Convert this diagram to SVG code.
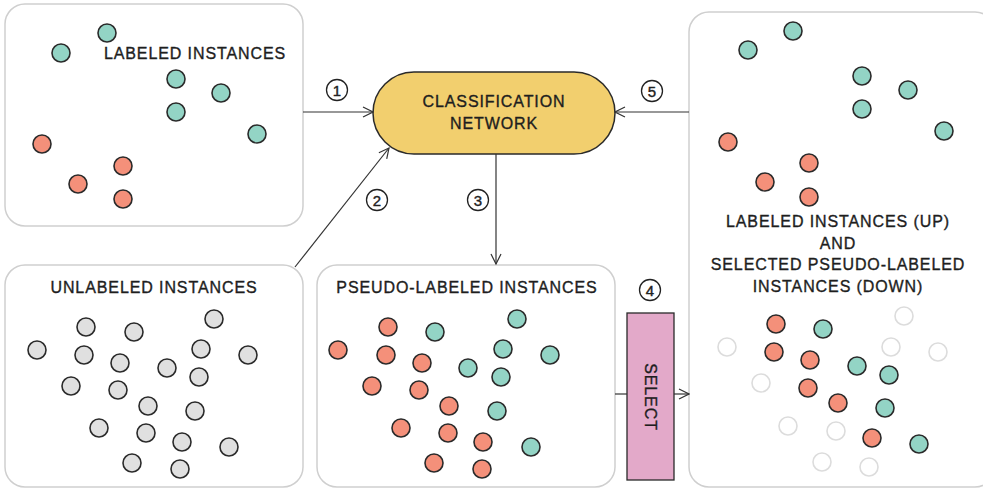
<svg xmlns="http://www.w3.org/2000/svg" width="983" height="489" viewBox="0 0 983 489">
<style>
.box{fill:#fff;stroke:#cfcfcf;stroke-width:1.5}
.t{font-family:"Liberation Sans",Arial,sans-serif;font-size:16px;fill:#1e1e1e;stroke:#1e1e1e;stroke-width:0.35;letter-spacing:0.9px;text-anchor:middle}
.g{fill:#e0e0e0;stroke:#2a2a2a;stroke-width:1.6}
.b{fill:#93d4c5;stroke:#2a2a2a;stroke-width:1.6}
.o{fill:#f4907a;stroke:#2a2a2a;stroke-width:1.6}
.w{fill:#fff;stroke:#dcdcdc;stroke-width:1.6}
.ln{fill:none;stroke:#333;stroke-width:1.2}
.lc{fill:#fff;stroke:#222;stroke-width:1.3}
.lt{font-family:"Liberation Sans",Arial,sans-serif;font-size:15px;fill:#222;stroke:#222;stroke-width:0.4;text-anchor:middle}
</style>
<defs>
<marker id="ah" viewBox="0 0 12 12" refX="11" refY="6" markerWidth="12" markerHeight="12" markerUnits="userSpaceOnUse" orient="auto">
<path d="M1,1 L11,6 L1,11" fill="none" stroke="#333" stroke-width="1.2"/>
</marker>
</defs>

<g id="labeled">
<rect class="box" x="5" y="4" width="298" height="222" rx="20"/>
<text class="t" x="195" y="59">LABELED INSTANCES</text>
<circle class="b" cx="61" cy="53" r="9"/>
<circle class="b" cx="107" cy="33" r="9"/>
<circle class="b" cx="176" cy="79" r="9"/>
<circle class="b" cx="221" cy="93" r="9"/>
<circle class="b" cx="176" cy="112" r="9"/>
<circle class="b" cx="257" cy="134" r="9"/>
<circle class="o" cx="42" cy="144" r="9"/>
<circle class="o" cx="123" cy="166" r="9"/>
<circle class="o" cx="78" cy="184" r="9"/>
<circle class="o" cx="123" cy="199" r="9"/>
</g>

<g id="network">
<rect x="373" y="72" width="242" height="82" rx="41" fill="#f2cf6e" stroke="#2a2a2a" stroke-width="1.5"/>
<text class="t" x="494" y="107">CLASSIFICATION</text>
<text class="t" x="494" y="129">NETWORK</text>
</g>

<g id="unlabeled">
<rect class="box" x="5" y="265" width="298" height="222" rx="20"/>
<text class="t" x="154" y="293">UNLABELED INSTANCES</text>
<circle class="g" cx="86" cy="327" r="9"/>
<circle class="g" cx="134" cy="332" r="9"/>
<circle class="g" cx="214" cy="319" r="9"/>
<circle class="g" cx="37" cy="350" r="9"/>
<circle class="g" cx="84" cy="355" r="9"/>
<circle class="g" cx="201" cy="349" r="9"/>
<circle class="g" cx="248" cy="355" r="9"/>
<circle class="g" cx="120" cy="363" r="9"/>
<circle class="g" cx="167" cy="368" r="9"/>
<circle class="g" cx="199" cy="377" r="9"/>
<circle class="g" cx="71" cy="386" r="9"/>
<circle class="g" cx="118" cy="390" r="9"/>
<circle class="g" cx="148" cy="406" r="9"/>
<circle class="g" cx="195" cy="411" r="9"/>
<circle class="g" cx="99" cy="428" r="9"/>
<circle class="g" cx="146" cy="433" r="9"/>
<circle class="g" cx="182" cy="442" r="9"/>
<circle class="g" cx="229" cy="447" r="9"/>
<circle class="g" cx="132" cy="463" r="9"/>
<circle class="g" cx="180" cy="469" r="9"/>
</g>

<g id="pseudo">
<rect class="box" x="317" y="265" width="298" height="222" rx="20"/>
<text class="t" x="467" y="293">PSEUDO-LABELED INSTANCES</text>
<circle class="o" cx="388" cy="327" r="9"/>
<circle class="b" cx="435" cy="332" r="9"/>
<circle class="b" cx="517" cy="319" r="9"/>
<circle class="o" cx="338" cy="350" r="9"/>
<circle class="o" cx="386" cy="355" r="9"/>
<circle class="b" cx="503" cy="349" r="9"/>
<circle class="b" cx="550" cy="355" r="9"/>
<circle class="o" cx="422" cy="363" r="9"/>
<circle class="b" cx="468" cy="368" r="9"/>
<circle class="b" cx="501" cy="377" r="9"/>
<circle class="o" cx="372" cy="386" r="9"/>
<circle class="o" cx="419" cy="390" r="9"/>
<circle class="o" cx="449" cy="406" r="9"/>
<circle class="b" cx="497" cy="411" r="9"/>
<circle class="o" cx="401" cy="428" r="9"/>
<circle class="o" cx="448" cy="433" r="9"/>
<circle class="o" cx="483" cy="442" r="9"/>
<circle class="b" cx="531" cy="447" r="9"/>
<circle class="o" cx="434" cy="463" r="9"/>
<circle class="o" cx="482" cy="469" r="9"/>
</g>

<g id="select">
<rect x="627" y="313" width="47" height="167" fill="#e3a9c9" stroke="#2a2a2a" stroke-width="1.3"/>
<text class="t" x="0" y="0" transform="translate(645,397) rotate(90)">SELECT</text>
</g>

<g id="combined">
<rect class="box" x="689" y="12" width="306" height="475" rx="20"/>
<text class="t" x="838" y="227">LABELED INSTANCES (UP)</text>
<text class="t" x="838" y="249">AND</text>
<text class="t" x="838" y="270">SELECTED PSEUDO-LABELED</text>
<text class="t" x="838" y="292">INSTANCES (DOWN)</text>
<circle class="b" cx="748" cy="50" r="9"/>
<circle class="b" cx="793" cy="31" r="9"/>
<circle class="b" cx="862" cy="76" r="9"/>
<circle class="b" cx="908" cy="90" r="9"/>
<circle class="b" cx="862" cy="109" r="9"/>
<circle class="b" cx="944" cy="131" r="9"/>
<circle class="o" cx="728" cy="142" r="9"/>
<circle class="o" cx="809" cy="163" r="9"/>
<circle class="o" cx="765" cy="182" r="9"/>
<circle class="o" cx="809" cy="197" r="9"/>
<circle class="w" cx="904" cy="316" r="9"/>
<circle class="o" cx="776" cy="324" r="9"/>
<circle class="b" cx="823" cy="329" r="9"/>
<circle class="w" cx="727" cy="347" r="9"/>
<circle class="o" cx="774" cy="352" r="9"/>
<circle class="w" cx="891" cy="347" r="9"/>
<circle class="w" cx="938" cy="352" r="9"/>
<circle class="o" cx="810" cy="360" r="9"/>
<circle class="b" cx="857" cy="366" r="9"/>
<circle class="b" cx="889" cy="375" r="9"/>
<circle class="w" cx="761" cy="383" r="9"/>
<circle class="o" cx="808" cy="388" r="9"/>
<circle class="o" cx="838" cy="403" r="9"/>
<circle class="b" cx="885" cy="408" r="9"/>
<circle class="w" cx="788" cy="426" r="9"/>
<circle class="w" cx="836" cy="431" r="9"/>
<circle class="o" cx="872" cy="438" r="9"/>
<circle class="b" cx="919" cy="444" r="9"/>
<circle class="w" cx="822" cy="462" r="9"/>
<circle class="w" cx="869" cy="467" r="9"/>
</g>

<g id="connectors">
<line class="ln" x1="303" y1="112" x2="373" y2="112" marker-end="url(#ah)"/>
<line class="ln" x1="295" y1="267" x2="389" y2="148" marker-end="url(#ah)"/>
<line class="ln" x1="496" y1="154" x2="496" y2="264" marker-end="url(#ah)"/>
<line class="ln" x1="615" y1="394" x2="627" y2="394"/>
<line class="ln" x1="674" y1="394" x2="689" y2="394" marker-end="url(#ah)"/>
<line class="ln" x1="689" y1="112" x2="615" y2="112" marker-end="url(#ah)"/>
<circle class="lc" cx="337" cy="90" r="10.5"/>
<text class="lt" x="337" y="95.5">1</text>
<circle class="lc" cx="377" cy="200" r="10.5"/>
<text class="lt" x="377" y="205.5">2</text>
<circle class="lc" cx="478" cy="200" r="10.5"/>
<text class="lt" x="478" y="205.5">3</text>
<circle class="lc" cx="650" cy="290" r="10.5"/>
<text class="lt" x="650" y="295.5">4</text>
<circle class="lc" cx="652" cy="91" r="10.5"/>
<text class="lt" x="652" y="96.5">5</text>
</g>
</svg>
